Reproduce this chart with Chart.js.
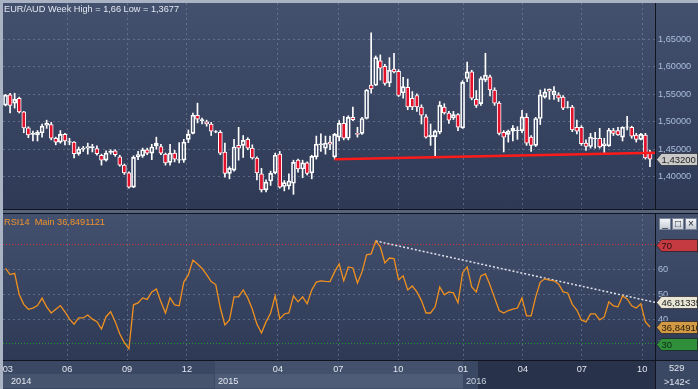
<!DOCTYPE html>
<html>
<head>
<meta charset="utf-8">
<script src="https://cdn.jsdelivr.net/npm/chart.js@4.4.1/dist/chart.umd.min.js"></script>
<style>
  body { margin: 0; background: #10141f; }
  #wrap { position: relative; width: 698px; height: 389px; overflow: hidden; background: #10141f;
          font-family: "Liberation Sans", Arial, sans-serif; font-size: 9.2px; }
  .abs { position: absolute; }
  .panel { background: linear-gradient(#44516e, #2d3955); }
  .txt { position: absolute; white-space: pre; line-height: 12px; }
  canvas { position: absolute; left: 0; }
  .btn { position: absolute; top: 218px; width: 10px; height: 10px; border: 1px solid #7c8698;
         background: linear-gradient(#f4f6f9, #c4cad4); color: #20242c; font-size: 10px;
         line-height: 10px; text-align: center; }
</style>
</head>
<body>
<div id="wrap">
  <div class="abs" style="left:0;top:0;width:698px;height:3px;background:#a9b3c3"></div>
  <div class="abs" style="left:0;top:0;width:3px;height:389px;background:#a9b3c3"></div>
  <div class="abs panel" style="left:3px;top:3px;width:652px;height:206px"></div>
  <div class="abs panel" style="left:656px;top:3px;width:42px;height:206px"></div>
  <div class="abs" style="left:3px;top:210px;width:695px;height:3px;background:#58647c"></div>
  <div class="abs panel" style="left:3px;top:214px;width:652px;height:146px"></div>
  <div class="abs panel" style="left:656px;top:214px;width:42px;height:146px"></div>
  <div class="abs" style="left:3px;top:361px;width:652px;height:28px;background:#3b4864"></div>
  <div class="abs" style="left:3px;top:374px;width:211px;height:14px;background:#47546e"></div>
  <div class="abs" style="left:215px;top:361px;width:248px;height:28px;background:#44516c"></div>
  <div class="abs" style="left:215px;top:374px;width:248px;height:14px;background:#4e5c78"></div>
  <div class="abs" style="left:478px;top:361px;width:177px;height:28px;background:#28324b"></div>
  <div class="abs" style="left:656px;top:361px;width:42px;height:28px;background:#3b4864"></div>

  <canvas id="priceChart" width="698" height="210" style="top:0"></canvas>
  <canvas id="rsiChart" width="698" height="179" style="top:210px"></canvas>

  <div class="txt" style="left:4px;top:3px;color:#e2e7f0">EUR/AUD Week High = 1,66 Low = 1,3677</div>
  <div class="txt" style="left:4px;top:216px;color:#f0922c">RSI14  Main 36,8491121</div>
  <div class="txt" style="left:11px;top:375px;color:#e2e7f0">2014</div>
  <div class="txt" style="left:218px;top:375px;color:#e2e7f0">2015</div>
  <div class="txt" style="left:466px;top:375px;color:#c9d1de">2016</div>
  <div class="txt" style="left:669px;top:362px;color:#e2e7f0">529</div>
  <div class="txt" style="left:664px;top:376px;color:#e2e7f0">&gt;142&lt;</div>
  <div class="btn" style="left:659px">_</div>
  <div class="btn" style="left:672px">&#9633;</div>
  <div class="btn" style="left:685px">&#215;</div>
</div>

<script>
// EUR/AUD weekly candles, Mar 2014 - Oct 2016
const open = [
  1.5305, 1.549, 1.534, 1.543, 1.518, 1.489, 1.477, 1.476, 1.480, 1.494,
  1.495, 1.470, 1.463, 1.477, 1.463, 1.463, 1.442, 1.450, 1.452, 1.453,
  1.451, 1.439, 1.430, 1.444, 1.447, 1.436, 1.421, 1.407, 1.381, 1.436,
  1.438, 1.449, 1.443, 1.456, 1.455, 1.441, 1.426, 1.443, 1.430, 1.430,
  1.468, 1.479, 1.512, 1.502, 1.500, 1.496, 1.481, 1.481, 1.445, 1.406,
  1.412, 1.457, 1.457, 1.468, 1.452, 1.434, 1.405, 1.376, 1.392, 1.407,
  1.441, 1.382, 1.383, 1.388, 1.430, 1.414, 1.425, 1.407, 1.436, 1.458,
  1.452, 1.463, 1.436, 1.472, 1.497, 1.470, 1.508, 1.479, 1.479, 1.506,
  1.567, 1.567, 1.611, 1.601, 1.571, 1.596, 1.592, 1.553, 1.563, 1.543,
  1.548, 1.527, 1.509, 1.473, 1.473, 1.481, 1.527, 1.516, 1.507, 1.513,
  1.489, 1.579, 1.591, 1.541, 1.533, 1.576, 1.582, 1.558, 1.534, 1.481,
  1.477, 1.483, 1.484, 1.484, 1.508, 1.472, 1.457, 1.506, 1.545, 1.559,
  1.549, 1.549, 1.545, 1.526, 1.527, 1.490, 1.490, 1.461, 1.455, 1.469,
  1.470, 1.456, 1.456, 1.484, 1.484, 1.472, 1.490, 1.490, 1.476, 1.468,
  1.476, 1.443
];
const high = [
  1.550, 1.552, 1.552, 1.545, 1.519, 1.491, 1.483, 1.484, 1.496, 1.503,
  1.499, 1.472, 1.484, 1.479, 1.470, 1.464, 1.454, 1.455, 1.461, 1.459,
  1.456, 1.441, 1.447, 1.449, 1.449, 1.439, 1.423, 1.409, 1.438, 1.446,
  1.452, 1.452, 1.459, 1.472, 1.459, 1.443, 1.459, 1.448, 1.462, 1.468,
  1.485, 1.516, 1.534, 1.507, 1.503, 1.499, 1.484, 1.484, 1.461, 1.418,
  1.468, 1.490, 1.475, 1.471, 1.458, 1.436, 1.415, 1.394, 1.410, 1.443,
  1.446, 1.393, 1.405, 1.430, 1.432, 1.430, 1.427, 1.439, 1.474, 1.478,
  1.474, 1.474, 1.479, 1.502, 1.510, 1.511, 1.527, 1.490, 1.508, 1.559,
  1.662, 1.620, 1.622, 1.605, 1.617, 1.625, 1.595, 1.581, 1.578, 1.555,
  1.551, 1.531, 1.513, 1.496, 1.485, 1.537, 1.533, 1.519, 1.519, 1.515,
  1.575, 1.609, 1.594, 1.557, 1.582, 1.625, 1.585, 1.562, 1.537, 1.484,
  1.485, 1.493, 1.491, 1.521, 1.515, 1.475, 1.508, 1.558, 1.560, 1.560,
  1.564, 1.553, 1.548, 1.537, 1.530, 1.503, 1.493, 1.467, 1.479, 1.481,
  1.488, 1.470, 1.488, 1.488, 1.490, 1.491, 1.510, 1.492, 1.479, 1.479,
  1.479, 1.448
];
const low = [
  1.529, 1.516, 1.525, 1.516, 1.480, 1.471, 1.465, 1.465, 1.472, 1.488,
  1.467, 1.458, 1.461, 1.458, 1.458, 1.434, 1.439, 1.446, 1.441, 1.445,
  1.439, 1.421, 1.428, 1.441, 1.437, 1.419, 1.404, 1.379, 1.380, 1.431,
  1.435, 1.440, 1.431, 1.450, 1.440, 1.421, 1.421, 1.427, 1.425, 1.426,
  1.462, 1.478, 1.498, 1.496, 1.492, 1.475, 1.480, 1.440, 1.399, 1.396,
  1.410, 1.430, 1.435, 1.449, 1.432, 1.394, 1.372, 1.372, 1.384, 1.405,
  1.379, 1.374, 1.377, 1.3677, 1.408, 1.398, 1.403, 1.396, 1.432, 1.446,
  1.441, 1.449, 1.432, 1.465, 1.467, 1.467, 1.502, 1.472, 1.477, 1.505,
  1.552, 1.566, 1.576, 1.567, 1.564, 1.589, 1.546, 1.543, 1.522, 1.522,
  1.519, 1.496, 1.470, 1.457, 1.436, 1.478, 1.514, 1.497, 1.504, 1.484,
  1.488, 1.573, 1.540, 1.526, 1.530, 1.573, 1.547, 1.530, 1.476, 1.445,
  1.463, 1.465, 1.468, 1.480, 1.457, 1.446, 1.455, 1.495, 1.543, 1.541,
  1.541, 1.537, 1.522, 1.525, 1.482, 1.478, 1.457, 1.448, 1.452, 1.452,
  1.452, 1.444, 1.455, 1.475, 1.475, 1.465, 1.485, 1.470, 1.463, 1.467,
  1.432, 1.418
];
const close = [
  1.5487, 1.530, 1.541, 1.518, 1.489, 1.476, 1.479, 1.481, 1.492, 1.497,
  1.470, 1.463, 1.477, 1.465, 1.464, 1.442, 1.450, 1.452, 1.455, 1.455,
  1.442, 1.430, 1.443, 1.446, 1.440, 1.421, 1.407, 1.381, 1.435, 1.440,
  1.449, 1.443, 1.454, 1.461, 1.443, 1.425, 1.443, 1.432, 1.431, 1.463,
  1.477, 1.512, 1.505, 1.504, 1.496, 1.483, 1.482, 1.443, 1.406, 1.415,
  1.454, 1.452, 1.466, 1.452, 1.434, 1.407, 1.376, 1.390, 1.406, 1.439,
  1.381, 1.389, 1.392, 1.426, 1.414, 1.425, 1.406, 1.437, 1.459, 1.460,
  1.461, 1.459, 1.477, 1.497, 1.470, 1.508, 1.504, 1.477, 1.506, 1.558,
  1.560, 1.617, 1.598, 1.570, 1.594, 1.591, 1.548, 1.564, 1.527, 1.527,
  1.527, 1.512, 1.472, 1.476, 1.483, 1.530, 1.516, 1.503, 1.513, 1.490,
  1.572, 1.591, 1.543, 1.530, 1.579, 1.585, 1.558, 1.534, 1.479, 1.472,
  1.483, 1.488, 1.485, 1.509, 1.461, 1.457, 1.506, 1.549, 1.554, 1.556,
  1.556, 1.543, 1.525, 1.527, 1.485, 1.483, 1.460, 1.455, 1.472, 1.470,
  1.454, 1.460, 1.485, 1.479, 1.476, 1.490, 1.491, 1.474, 1.468, 1.477,
  1.434, 1.432
];
const rsi = [
  60.5, 58.0, 58.5, 50.0, 46.0, 44.0, 44.5, 45.5, 48.5, 45.0,
  42.5, 44.0, 45.5, 43.0, 40.0, 38.0, 40.5, 40.5, 41.7, 40.0,
  39.0, 36.0, 41.0, 43.0, 39.0, 34.0, 30.5, 28.0, 45.8, 46.6,
  48.6, 48.0, 51.0, 52.2, 47.0, 42.5, 48.6, 45.8, 45.4, 55.0,
  57.9, 63.9, 62.3, 60.5, 58.0, 55.2, 54.0, 44.5, 37.7, 39.7,
  49.0, 49.0, 51.8, 48.6, 44.0, 38.0, 34.4, 38.9, 42.5, 49.4,
  40.1, 42.1, 42.5, 49.4, 47.0, 49.0, 46.2, 51.8, 55.0, 55.5,
  55.3, 55.2, 59.1, 62.3, 55.5, 61.1, 60.7, 54.6, 59.1, 66.0,
  66.4, 71.6, 69.2, 62.7, 64.7, 64.5, 55.9, 57.5, 51.8, 53.4,
  51.0, 47.5, 42.5, 42.5, 45.0, 53.0, 49.8, 51.0, 50.6, 46.6,
  58.7, 61.1, 53.0, 51.0, 57.5, 58.3, 53.8, 48.6, 43.5, 42.5,
  43.5, 44.1, 44.5, 48.6, 41.3, 41.3, 49.0, 55.0, 56.3, 55.8,
  55.5, 54.2, 51.0, 50.6, 46.0, 43.7, 39.7, 38.9, 42.1, 42.1,
  39.7, 40.9, 47.0, 45.4, 45.0, 49.4, 48.2, 45.4, 44.5, 46.2,
  38.9, 36.8491
];

// month ticks (position in bars) and their labels
const monthPos = [0.5, 13.5, 26.6, 39.7, 59.6, 72.8, 85.9, 100.1, 113.2, 126.1, 139.3];
const monthLabels = ['03', '06', '09', '12', '04', '07', '10', '01', '04', '07', '10'];
const priceTicks = [1.40, 1.45, 1.50, 1.55, 1.60, 1.65];
const rsiTicks = [30, 40, 50, 60, 70];

// hand-drawn lines
const supportLine = [{x: 72, y: 1.4318}, {x: 142.1, y: 1.4435}];
const rsiTrend = [{x: 81, y: 71.6}, {x: 142.1, y: 46.81}];
const rsiTrendValue = '46,81335';

const X_MIN = -0.55, X_MAX = 142.1;
const GRID = 'rgba(125,140,170,0.55)';
const LABEL = '#a9bedc';
const FONT = {family: '"Liberation Sans", Arial, sans-serif', size: 9.2};

function comma(v, d) {
    return v.toFixed(d).replace('.', ',');
}

// remove the label-driven paddings so the plot fills its box
function noPad(s) {
    s.paddingTop = 0;
    s.paddingBottom = 0;
    s.paddingLeft = 0;
    s.paddingRight = 0;
}

function drawTag(chart, value, text, fill, color) {
    const ctx = chart.ctx;
    const y = Math.round(chart.scales.y.getPixelForValue(value)) + 0.5;
    const x0 = chart.chartArea.right + 1.5;
    ctx.save();
    ctx.beginPath();
    ctx.rect(x0 - 1, 0, chart.width - x0 + 1, chart.height);
    ctx.clip();
    ctx.beginPath();
    ctx.moveTo(x0, y);
    ctx.lineTo(x0 + 5, y - 6);
    ctx.lineTo(x0 + 41, y - 6);
    ctx.lineTo(x0 + 41, y + 6);
    ctx.lineTo(x0 + 5, y + 6);
    ctx.closePath();
    ctx.fillStyle = fill;
    ctx.fill();
    ctx.strokeStyle = 'rgba(20,20,30,0.6)';
    ctx.lineWidth = 1;
    ctx.stroke();
    ctx.fillStyle = color;
    ctx.font = '9.5px "Liberation Sans", Arial, sans-serif';
    ctx.textBaseline = 'middle';
    ctx.fillText(text, x0 + 5, y + 0.5);
    ctx.restore();
}

const idx = close.map((_, i) => i);
const upperWick = idx.map(i => ({x: i, y: [Math.max(open[i], close[i]), high[i]]}));
const lowerWick = idx.map(i => ({x: i, y: [low[i], Math.min(open[i], close[i])]}));
const bodies = idx.map(i => ({x: i, y: [open[i], close[i]]}));

const xGrid = {
    type: 'linear',
    min: X_MIN,
    max: X_MAX,
    offset: false,
    afterBuildTicks: s => { s.ticks = monthPos.map(v => ({value: v})); },
    grid: {
        offset: false,
        drawTicks: false,
        color: c => (c.index === 0 ? 'rgba(0,0,0,0)' : GRID)
    },
    border: {display: false, dash: [2, 3]}
};

new Chart(document.getElementById('priceChart'), {
    type: 'bar',
    data: {
        datasets: [
            {
                type: 'line', data: supportLine, borderColor: '#ff1a1a', borderWidth: 2.5,
                pointRadius: 0, order: 0
            },
            {
                data: bodies, barThickness: 4, borderWidth: 1, borderColor: '#ffffff',
                borderSkipped: false, order: 1,
                backgroundColor: c => (close[c.dataIndex] < open[c.dataIndex] ? '#e3102c' : 'rgba(0,0,0,0)')
            },
            {data: upperWick, barThickness: 1, backgroundColor: '#ffffff', borderWidth: 0, order: 2},
            {data: lowerWick, barThickness: 1, backgroundColor: '#ffffff', borderWidth: 0, order: 2}
        ]
    },
    options: {
        responsive: false,
        animation: false,
        devicePixelRatio: 1,
        datasets: {bar: {grouped: false}},
        layout: {padding: {left: 3, top: 3, right: 0, bottom: 1}},
        plugins: {legend: {display: false}, tooltip: {enabled: false}},
        scales: {
            x: Object.assign({}, xGrid, {
                ticks: {display: false},
                afterFit: s => { s.height = 0; noPad(s); }
            }),
            y: {
                position: 'right',
                min: 1.341,
                max: 1.7166,
                afterBuildTicks: s => { s.ticks = priceTicks.map(v => ({value: v})); },
                afterFit: s => { s.width = 43; noPad(s); },
                ticks: {color: LABEL, font: FONT, padding: 3, callback: v => comma(v, 5)},
                grid: {color: GRID, drawTicks: false},
                border: {display: false, dash: [2, 3]}
            }
        }
    },
    plugins: [{
        id: 'lastPrice',
        afterDraw: chart => drawTag(chart, close[close.length - 1], comma(close[close.length - 1], 5), '#c9c9c9', '#1c1c1c')
    }]
});

new Chart(document.getElementById('rsiChart'), {
    type: 'line',
    data: {
        datasets: [
            {
                data: rsi.map((v, i) => ({x: i, y: v})), borderColor: '#f0901e', borderWidth: 1.3,
                pointRadius: 0, tension: 0
            },
            {
                data: rsiTrend, borderColor: '#dfe3ea', borderWidth: 1.5, borderDash: [2, 2],
                pointRadius: 0
            }
        ]
    },
    options: {
        responsive: false,
        animation: false,
        devicePixelRatio: 1,
        layout: {padding: {left: 3, top: 4, right: 0, bottom: 0}},
        plugins: {legend: {display: false}, tooltip: {enabled: false}},
        scales: {
            x: Object.assign({}, xGrid, {
                ticks: {
                    color: '#e2e7f0', font: FONT, padding: 4, maxRotation: 0, autoSkip: false,
                    callback: v => monthLabels[monthPos.indexOf(v)]
                },
                afterFit: s => { s.height = 29; noPad(s); }
            }),
            y: {
                position: 'right',
                min: 23.5,
                max: 82.5,
                afterBuildTicks: s => { s.ticks = rsiTicks.map(v => ({value: v})); },
                afterFit: s => { s.width = 43; noPad(s); },
                ticks: {color: LABEL, font: FONT, padding: 3},
                grid: {
                    drawTicks: false,
                    color: c => (c.tick.value === 70 ? '#d2343c' : c.tick.value === 30 ? '#1e9a2a' : GRID)
                },
                border: {display: false, dash: c => (c.tick.value === 70 || c.tick.value === 30 ? [1, 2] : [2, 3])}
            }
        }
    },
    plugins: [{
        id: 'rsiTags',
        afterDraw: chart => {
            drawTag(chart, 70, '70', '#c53a40', '#2a1010');
            drawTag(chart, 30, '30', '#2f8f3b', '#0e2a12');
            drawTag(chart, 46.81, rsiTrendValue, '#e9e6d6', '#202020');
            drawTag(chart, rsi[rsi.length - 1], comma(rsi[rsi.length - 1], 5), '#d39a45', '#241a08');
        }
    }]
});
</script>
</body>
</html>
